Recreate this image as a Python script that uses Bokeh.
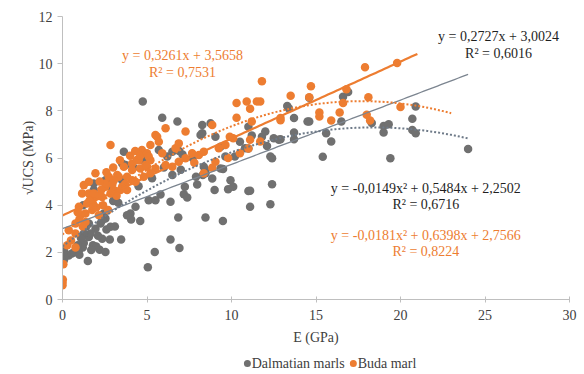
import numpy as np
from bokeh.plotting import figure
from bokeh.layouts import column
from bokeh.models import Range1d, Label, FixedTicker
from bokeh.core.properties import value
from bokeh.embed import file_html
from bokeh.resources import INLINE

# E (GPa) and sqrt(UCS) (MPa) for the Dalmatian marls
dalmatian_e = [
    0.08, 0.18, 0.37, 0.10, 0.55, 0.97, 1.26, 1.50, 1.56, 1.80, 1.95, 2.20, 2.35, 2.54, 2.80,
    3.47, 2.60, 2.84, 2.25, 1.56, 1.66, 1.26, 2.54, 2.35, 2.44, 3.00, 2.84, 1.85, 1.22, 3.14,
    4.02, 4.06, 4.60, 3.53, 2.54, 1.85, 3.73, 3.63, 4.75, 1.20, 0.70, 2.00, 1.00, 1.10, 2.84,
    3.53, 4.32, 3.82, 3.04, 3.30, 1.40, 0.90, 1.70, 2.10, 3.10,
    5.05, 5.46, 6.39, 6.92, 6.85, 8.46, 9.49, 6.39, 5.80, 5.10, 5.50, 7.24, 7.18, 7.38, 7.97,
    8.86, 9.00, 9.80, 10.10, 9.94, 9.50, 8.46, 8.36, 11.00, 11.10, 12.30, 12.40, 5.90, 6.80,
    8.27, 8.76, 8.27, 9.05, 8.17, 9.35, 10.50, 10.80, 9.64, 10.20, 9.35, 8.46, 6.20, 6.50,
    5.30, 5.70, 6.90, 7.10, 11.00, 11.20, 11.00, 11.80, 12.00, 12.10, 12.80, 13.70, 13.70,
    12.90, 12.40, 4.20, 4.80, 6.00, 7.00, 7.70, 4.50, 7.90, 8.30, 6.50, 12.50, 12.30,
    15.40, 15.90, 15.60, 16.50, 16.60, 16.90, 14.60, 14.60, 13.70, 13.30, 13.40, 14.50,
    18.30, 19.00, 19.00, 19.30, 19.40, 20.70, 20.90, 20.70, 20.90, 24.00, 11.10,
]
dalmatian_ucs = [
    1.66, 1.83, 1.87, 2.05, 1.95, 2.09, 2.40, 1.63, 2.65, 2.30, 3.00, 2.11, 2.58, 2.01, 2.54,
    2.54, 2.97, 3.08, 3.22, 3.22, 2.80, 2.80, 3.43, 3.36, 3.65, 4.18, 4.78, 4.64, 4.00, 4.21,
    3.65, 3.39, 3.33, 5.06, 5.06, 4.92, 5.70, 6.27, 8.40, 2.20, 2.00, 2.25, 1.90, 2.60, 4.99,
    5.77, 3.93, 3.57, 4.21, 4.10, 3.10, 2.30, 2.10, 2.70, 3.10,
    1.37, 2.01, 2.54, 2.18, 3.48, 3.48, 3.33, 4.14, 4.45, 4.21, 4.21, 4.78, 4.46, 4.33, 4.88,
    5.13, 4.64, 4.68, 4.78, 5.06, 5.53, 5.35, 5.63, 4.60, 3.93, 4.04, 4.89, 7.71, 7.55,
    7.40, 7.47, 7.05, 6.90, 6.98, 6.48, 6.69, 6.41, 6.06, 6.06, 5.56, 5.49, 6.06, 5.28,
    5.14, 6.34, 6.30, 6.15, 7.33, 6.95, 6.40, 6.90, 7.12, 6.51, 6.77, 7.08, 6.80,
    6.80, 5.99, 5.60, 5.90, 5.60, 5.50, 6.00, 4.80, 5.20, 5.28, 6.27, 6.84, 6.06,
    6.05, 6.70, 7.05, 7.55, 8.60, 8.80, 8.55, 7.55, 7.70, 8.20, 8.10, 7.55,
    7.48, 7.36, 7.08, 7.43, 5.99, 7.19, 7.05, 7.66, 8.18, 6.38, 4.61,
]

# E (GPa) and sqrt(UCS) (MPa) for the Buda marl
buda_e = [
    0.00, 0.00, 0.02, 0.05, 0.28, 0.77, 0.37, 0.77, 0.50,
    1.26, 1.16, 1.56, 1.46, 0.97, 1.36, 1.76, 1.80, 2.35, 2.54, 2.74, 3.24, 3.63, 4.12, 4.51,
    1.36, 0.77, 2.15, 1.85, 3.04, 1.95, 1.56, 3.53, 4.12, 2.84, 4.70, 4.40, 4.12, 3.82, 3.33,
    3.04, 2.54, 1.85, 2.15, 2.84, 3.43, 3.82, 4.32, 4.81, 4.91, 4.60, 1.10, 1.00, 2.40, 2.70,
    2.00, 3.20, 3.70, 4.00, 4.30, 4.60, 5.00, 5.20, 1.60, 1.20, 0.90, 2.20, 2.60, 3.00, 3.40,
    2.30, 2.95,
    5.10, 5.20, 5.70, 5.50, 6.10, 7.28, 6.88, 6.69, 5.90, 7.67, 8.36, 8.07, 9.25, 9.64, 10.10,
    10.50, 9.05, 7.28, 6.88, 6.10, 5.50, 5.00, 5.20, 6.50, 8.86, 8.36, 8.86, 5.60, 10.30,
    10.90, 11.70, 10.30, 11.10, 11.20, 11.80, 11.10, 11.70, 11.00, 7.80, 9.80, 9.90, 11.50,
    12.90, 13.50, 14.70, 14.60, 15.20, 15.20, 16.40, 15.90, 16.60, 16.80, 17.90, 18.10, 18.00,
    18.20, 19.80, 20.00, 12.90,
]
buda_ucs = [
    0.60, 0.72, 0.85, 1.50, 2.30, 2.20, 2.94, 2.80, 2.50,
    4.85, 4.50, 4.50, 4.07, 3.93, 3.65, 3.79, 4.07, 4.35, 4.78, 5.20, 5.28, 5.63, 5.77, 5.91,
    3.29, 3.22, 3.57, 4.35, 4.64, 5.35, 4.99, 4.78, 5.06, 6.55, 6.34, 5.91, 5.49, 5.20, 5.20,
    5.06, 4.92, 4.50, 4.40, 4.50, 4.64, 4.64, 4.99, 5.20, 5.70, 5.56, 3.60, 3.40, 4.00, 3.80,
    3.90, 4.40, 4.90, 6.10, 6.30, 6.10, 6.20, 5.90, 4.20, 3.10, 3.70, 5.00, 5.40, 5.60, 5.90,
    4.65, 4.90,
    6.06, 6.55, 6.69, 6.98, 7.26, 7.12, 6.62, 6.41, 6.20, 6.20, 6.27, 6.13, 6.41, 6.55, 6.84,
    6.20, 5.84, 5.99, 5.84, 5.70, 5.56, 5.63, 5.35, 5.63, 5.59, 5.35, 7.40, 6.90, 8.33,
    8.40, 8.40, 7.71, 8.09, 7.55, 9.25, 6.77, 6.70, 6.40, 5.80, 6.00, 6.90, 8.40,
    7.70, 8.64, 9.04, 8.58, 7.93, 7.76, 7.93, 7.59, 8.33, 8.92, 9.85, 8.58, 7.83,
    7.59, 10.03, 8.16, 7.60,
]

# Trend line coefficients (highest power first) and the E span each line covers
dalmatian_linear = [0.2727, 3.0024]
dalmatian_poly = [-0.0149, 0.5484, 2.2502]
buda_linear = [0.3261, 3.5658]
buda_poly = [-0.0181, 0.6398, 2.7566]
dalmatian_span = [0, 24]
buda_linear_span = [0, 21]
buda_poly_span = [0, 23]

x_ticks = [0, 5, 10, 15, 20, 25, 30]
y_ticks = [0, 2, 4, 6, 8, 10, 12]
series_names = ["Dalmatian marls", "Buda marl"]

GRAY = "#707070"
ORANGE = "#ED7D31"
SERIF = "'Liberation Serif', 'Times New Roman', serif"
TEXT = "#404040"

p = figure(width=584, height=350, output_backend="svg", toolbar_location=None,
           x_range=Range1d(0, 30), y_range=Range1d(0, 12),
           min_border_left=62, min_border_right=15, min_border_top=16, min_border_bottom=51)
p.outline_line_color = None
p.xgrid.visible = False
p.ygrid.visible = False

for ax in (p.xaxis[0], p.yaxis[0]):
    ax.axis_line_color = "#BFBFBF"
    ax.major_tick_line_color = "#BFBFBF"
    ax.minor_tick_line_color = None
    ax.major_label_text_font = SERIF
    ax.major_label_text_font_size = "14px"
    ax.major_label_text_color = TEXT
    ax.axis_label_text_font = SERIF
    ax.axis_label_text_font_size = "14px"
    ax.axis_label_text_font_style = "normal"
    ax.axis_label_text_color = TEXT

p.xaxis.ticker = FixedTicker(ticks=x_ticks)
p.yaxis.ticker = FixedTicker(ticks=y_ticks)
p.xaxis.major_tick_in = 3
p.xaxis.major_tick_out = 3
p.yaxis.major_tick_in = 0
p.yaxis.major_tick_out = 5
p.xaxis.major_label_standoff = 7
p.yaxis.major_label_standoff = 5
p.xaxis.axis_label = "E (GPa)"
p.yaxis.axis_label = "√UCS (MPa)"
p.xaxis.axis_label_standoff = 7
p.yaxis.axis_label_standoff = 0

p.scatter(dalmatian_e, dalmatian_ucs, size=8.5, color=GRAY, line_color=None)
p.scatter(buda_e, buda_ucs, size=8.5, color=ORANGE, line_color=None)

def curve(coefs, span):
    xs = np.linspace(span[0], span[1], 120)
    return xs, np.polyval(coefs, xs)

x, y = curve(dalmatian_linear, dalmatian_span)
p.line(x, y, line_color="#7C8590", line_width=1.3)
x, y = curve(dalmatian_poly, dalmatian_span)
p.line(x, y, line_color="#6E7A88", line_width=2, line_dash="2 2")
x, y = curve(buda_linear, buda_linear_span)
p.line(x, y, line_color=ORANGE, line_width=2.2)
x, y = curve(buda_poly, buda_poly_span)
p.line(x, y, line_color=ORANGE, line_width=2, line_dash="2 2")

def eq_label(xv, yv, text, color):
    p.add_layout(Label(x=xv, y=yv, text=text, text_font=SERIF, text_font_size="14px",
                       text_color=color, text_align="center", text_baseline="middle"))

def fmt_lin(c):
    return f"y = {c[0]:.4f}x + {c[1]:.4f}".replace(".", ",")

def fmt_poly(c):
    return f"y = {c[0]:.4f}x² + {c[1]:.4f}x + {c[2]:.4f}".replace(".", ",")

DARK = "#1F1F1F"
eq_label(7.1, 10.35, fmt_lin(buda_linear), ORANGE)
eq_label(7.1, 9.62, "R² = 0,7531", ORANGE)
eq_label(25.8, 11.15, fmt_lin(dalmatian_linear), DARK)
eq_label(25.8, 10.45, "R² = 0,6016", DARK)
eq_label(21.5, 4.72, fmt_poly(dalmatian_poly), DARK)
eq_label(21.5, 4.04, "R² = 0,6716", DARK)
eq_label(21.5, 2.72, fmt_poly(buda_poly), ORANGE)
eq_label(21.5, 2.02, "R² = 0,8224", ORANGE)

# legend strip drawn as its own small canvas under the chart (pixel coordinates)
leg = figure(width=584, height=24, output_backend="svg", toolbar_location=None,
             x_range=Range1d(0, 584), y_range=Range1d(0, 24),
             min_border=0, x_axis_type=None, y_axis_type=None)
leg.outline_line_color = None
leg.xgrid.visible = False
leg.ygrid.visible = False
leg_marker_x = [213, 335]
leg_y = 11
leg.scatter(leg_marker_x, [leg_y, leg_y], size=7, color=[GRAY, ORANGE], line_color=None)
leg.text([x + 5 for x in leg_marker_x], [leg_y, leg_y], text=series_names,
         text_font=value(SERIF), text_font_size="14px", text_color=TEXT,
         text_baseline="middle", text_align="left")

layout = column(p, leg, spacing=0)
open("out.html", "w").write(file_html(layout, INLINE))
